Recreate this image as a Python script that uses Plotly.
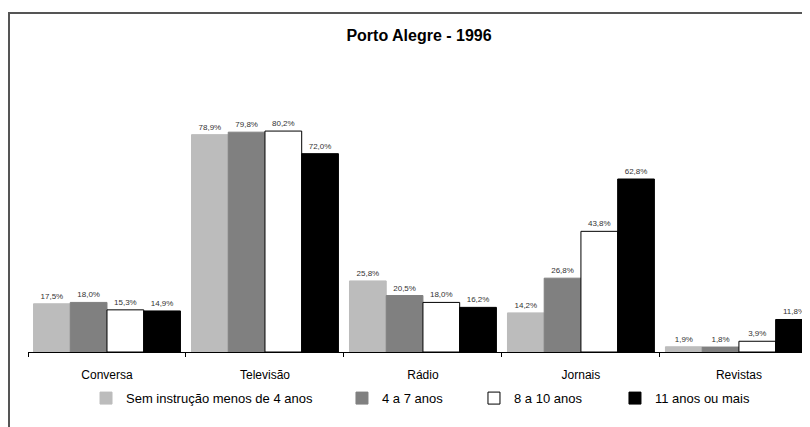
import plotly.graph_objects as go

categorias = ["Conversa", "Televisão", "Rádio", "Jornais", "Revistas"]

series = ["Sem instrução menos de 4 anos", "4 a 7 anos", "8 a 10 anos", "11 anos ou mais"]
sem_instrucao = [17.5, 78.9, 25.8, 14.2, 1.9]
anos_4_7 = [18.0, 79.8, 20.5, 26.8, 1.8]
anos_8_10 = [15.3, 80.2, 18.0, 43.8, 3.9]
anos_11_mais = [14.9, 72.0, 16.2, 62.8, 11.8]

COLORES = ["rgb(188, 188, 188)", "rgb(128, 128, 128)", "rgb(255, 255, 255)", "rgb(0, 0, 0)"]
BORDES = ["rgb(188, 188, 188)", "rgb(128, 128, 128)", "rgb(0, 0, 0)", "rgb(0, 0, 0)"]
COLOR_FONT = "#000000"
FONT_FAMILY = "Liberation Sans"
SIZE_TEXT = 11

# una leyenda por serie para repartir los elementos como en el original
LEYENDAS = ["legend", "legend2", "legend3", "legend4"]
LEYENDA_X = [0.0742, 0.4015, 0.5703, 0.7506]

fig = go.Figure()

for nombre, valores, color, borde, leyenda in zip(series, [sem_instrucao, anos_4_7, anos_8_10, anos_11_mais], COLORES, BORDES, LEYENDAS):
    fig.add_trace(go.Bar(
        x = categorias,
        y = valores,
        name = nombre,
        legend = leyenda,
        marker = dict(color = color, line = dict(color = borde, width = 1)),
        text = [f"{v:.1f}%".replace(".", ",") for v in valores],
        textposition = "outside",
        textfont = dict(size = 8, color = "#333333"),
        cliponaxis = False,
    ))

# marco del gráfico (la página tiene 8px de margen en el body)
fig.add_shape(
    type = "rect",
    xref = "paper", yref = "paper",
    x0 = -0.0243, x1 = 1.1,
    y0 = -0.5, y1 = 1.161,
    line = dict(color = "#555555", width = 2),
    fillcolor = "rgba(0,0,0,0)",
    layer = "below",
)

leyendas = {}
for leyenda, x in zip(LEYENDAS, LEYENDA_X):
    leyendas[leyenda] = dict(
        orientation = "h",
        x = x, xanchor = "left",
        y = -0.158, yanchor = "middle",
        font = dict(size = 13),
        itemwidth = 30,
        bgcolor = "rgba(0,0,0,0)",
    )

fig.update_layout(
    width = 802,
    height = 419,
    margin = dict(t = 52, l = 20, r = 0, b = 75),
    paper_bgcolor = "white",
    plot_bgcolor = "white",
    font = dict(family = FONT_FAMILY, size = SIZE_TEXT, color = COLOR_FONT),
    title = dict(
        text = "<b>Porto Alegre - 1996</b>",
        x = 0.5, xref = "paper",
        y = 0.9356, yanchor = "middle",
        font = dict(size = 16, color = COLOR_FONT),
    ),
    barmode = "group",
    bargap = 0.07,
    bargroupgap = 0,
    xaxis = dict(
        range = [-0.5, 4.45],
        showline = True,
        linecolor = "black",
        linewidth = 1,
        ticks = "outside",
        tickson = "boundaries",
        ticklen = 4,
        tickcolor = "black",
        ticklabelstandoff = 12,
        showgrid = False,
        tickfont = dict(size = 12),
        fixedrange = True,
    ),
    yaxis = dict(
        range = [0, 106],
        visible = False,
        fixedrange = True,
    ),
    showlegend = True,
    **leyendas,
)

fig.write_html("out.html")
